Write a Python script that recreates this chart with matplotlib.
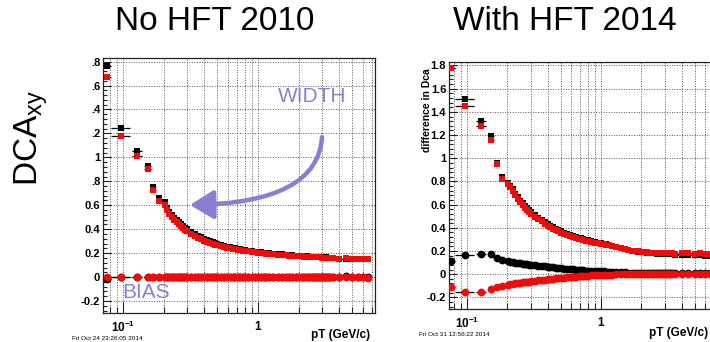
import matplotlib
matplotlib.use('Agg')
import matplotlib.pyplot as plt
from matplotlib.ticker import FixedLocator, NullFormatter, MultipleLocator, FixedFormatter
from matplotlib.patches import FancyArrowPatch
from matplotlib.path import Path

plt.rcParams['font.family'] = ['Liberation Sans', 'DejaVu Sans']
plt.rcParams['mathtext.fontset'] = 'custom'
plt.rcParams['mathtext.rm'] = 'Liberation Sans'
plt.rcParams['mathtext.it'] = 'Liberation Sans'
plt.rcParams['mathtext.bf'] = 'Liberation Sans:bold'

# ---------------- data ----------------
pt = [0.076, 0.097, 0.127, 0.152, 0.168, 0.184, 0.203,
      0.21, 0.22, 0.23, 0.24, 0.25, 0.26, 0.27, 0.28, 0.29, 0.30,
      0.32, 0.34, 0.36, 0.38, 0.40, 0.42, 0.44, 0.46, 0.48, 0.50,
      0.53, 0.56, 0.59, 0.62, 0.65, 0.68, 0.71, 0.74, 0.77, 0.80,
      0.85, 0.90, 0.95, 1.00, 1.05, 1.10, 1.15, 1.20, 1.30, 1.40,
      1.50, 1.60, 1.70, 1.80, 1.90, 2.00, 2.10, 2.20, 2.30, 2.40,
      2.50, 2.60, 2.70, 2.80, 2.90, 3.00, 3.10, 3.20, 3.30, 3.40,
      3.60, 4.00, 4.50, 5.00, 5.50, 6.00, 6.50]

pt_err = [0.005, 0.016, 0.011, 0.008, 0.006, 0.006, 0.005,
          0.005, 0.005, 0.005, 0.005, 0.005, 0.005, 0.005, 0.005, 0.005, 0.005,
          0.01, 0.01, 0.01, 0.01, 0.01, 0.01, 0.01, 0.01, 0.01, 0.01,
          0.015, 0.015, 0.015, 0.015, 0.015, 0.015, 0.015, 0.015, 0.015, 0.015,
          0.025, 0.025, 0.025, 0.025, 0.025, 0.025, 0.025, 0.025, 0.05, 0.05,
          0.05, 0.05, 0.05, 0.05, 0.05, 0.05, 0.05, 0.05, 0.05, 0.05,
          0.05, 0.05, 0.05, 0.05, 0.05, 0.05, 0.05, 0.05, 0.05, 0.05,
          0.2, 0.25, 0.25, 0.25, 0.25, 0.25, 0.25]

# No HFT 2010
width2010_red = [1.675, 1.18, 1.008, 0.90, 0.73, 0.636, 0.60,
                 0.56, 0.53, 0.50, 0.48, 0.46, 0.44, 0.425, 0.41, 0.395, 0.383,
                 0.362, 0.345, 0.33, 0.317, 0.305, 0.295, 0.286, 0.278, 0.271, 0.265,
                 0.257, 0.25, 0.244, 0.239, 0.235, 0.231, 0.227, 0.224, 0.221, 0.218,
                 0.214, 0.21, 0.207, 0.204, 0.201, 0.199, 0.197, 0.195, 0.191, 0.188,
                 0.185, 0.182, 0.18, 0.178, 0.176, 0.174, 0.172, 0.171, 0.17, 0.169,
                 0.168, 0.167, 0.166, 0.165, 0.164, 0.163, 0.163, 0.162, 0.162, 0.161,
                 0.158, 0.153, 0.156, 0.152, 0.155, 0.153, 0.151]
width2010_blk = [1.76, 1.244, 1.05, 0.93, 0.75, 0.66, 0.625,
                 0.575, 0.545, 0.515, 0.495, 0.475, 0.456, 0.44, 0.425, 0.41, 0.398,
                 0.377, 0.36, 0.345, 0.331, 0.319, 0.308, 0.299, 0.29, 0.283, 0.276,
                 0.268, 0.26, 0.254, 0.249, 0.244, 0.24, 0.236, 0.232, 0.229, 0.226,
                 0.221, 0.217, 0.213, 0.21, 0.207, 0.204, 0.202, 0.2, 0.196, 0.192,
                 0.189, 0.186, 0.183, 0.181, 0.179, 0.177, 0.175, 0.173, 0.172, 0.171,
                 0.17, 0.169, 0.168, 0.167, 0.166, 0.165, 0.164, 0.164, 0.163, 0.163,
                 0.16, 0.155, 0.155, 0.153, 0.154, 0.152, 0.152]
bias2010_red = [0.003, 0.002, 0.002, 0.002, 0.002, 0.002, 0.002,
                0.002, 0.002, 0.002, 0.002, 0.002, 0.002, 0.002, 0.002, 0.002, 0.002,
                0.002, 0.002, 0.002, 0.002, 0.002, 0.002, 0.002, 0.002, 0.002, 0.002,
                0.002, 0.002, 0.002, 0.002, 0.002, 0.002, 0.002, 0.002, 0.002, 0.002,
                0.002, 0.002, 0.002, 0.002, 0.002, 0.002, 0.002, 0.002, 0.002, 0.002,
                0.002, 0.002, 0.002, 0.002, 0.002, 0.002, 0.002, 0.002, 0.002, 0.002,
                0.002, 0.002, 0.002, 0.002, 0.002, 0.002, 0.002, 0.002, 0.002, 0.001,
                0.0, -0.003, 0.002, 0.0, -0.003, 0.0, -0.005]
bias2010_blk = [-0.012, 0.0, 0.002, 0.002, 0.001, 0.001, 0.0,
                0.0, 0.0, 0.0, 0.0, 0.0, 0.0, 0.0, 0.0, 0.0, 0.0,
                0.0, 0.0, 0.0, 0.0, 0.0, 0.0, 0.0, 0.0, 0.0, 0.0,
                0.0, 0.0, 0.0, 0.0, 0.0, 0.0, 0.0, 0.0, 0.0, 0.0,
                0.0, 0.0, 0.0, 0.0, 0.0, 0.0, 0.0, 0.0, 0.0, 0.0,
                0.0, 0.0, 0.0, 0.0, 0.0, 0.0, 0.0, 0.0, 0.0, 0.0,
                0.0, 0.0, 0.0, 0.0, 0.0, 0.0, 0.0, 0.0, 0.0, 0.0,
                0.0, 0.002, 0.008, 0.003, 0.0, 0.001, 0.0]

# With HFT 2014
width2014_red = [1.774, 1.453, 1.28, 1.16, 0.95, 0.82, 0.78,
                 0.75, 0.72, 0.68, 0.65, 0.62, 0.595, 0.575, 0.555, 0.537, 0.52,
                 0.495, 0.475, 0.455, 0.437, 0.42, 0.405, 0.392, 0.38, 0.369, 0.359,
                 0.347, 0.337, 0.328, 0.32, 0.313, 0.306, 0.3, 0.295, 0.29, 0.286,
                 0.279, 0.273, 0.268, 0.263, 0.258, 0.253, 0.248, 0.243, 0.233, 0.223,
                 0.215, 0.208, 0.203, 0.199, 0.196, 0.193, 0.19, 0.188, 0.187, 0.186,
                 0.185, 0.184, 0.183, 0.183, 0.182, 0.182, 0.181, 0.181, 0.18, 0.18,
                 0.178, 0.18, 0.183, 0.176, 0.179, 0.172, 0.17]
width2014_blk = [1.78, 1.508, 1.32, 1.19, 0.96, 0.84, 0.79,
                 0.765, 0.735, 0.695, 0.665, 0.635, 0.61, 0.59, 0.57, 0.552, 0.535,
                 0.51, 0.489, 0.469, 0.45, 0.433, 0.418, 0.404, 0.391, 0.38, 0.37,
                 0.357, 0.347, 0.337, 0.329, 0.321, 0.314, 0.308, 0.302, 0.297, 0.293,
                 0.286, 0.279, 0.273, 0.268, 0.262, 0.257, 0.252, 0.247, 0.237, 0.227,
                 0.218, 0.21, 0.204, 0.199, 0.195, 0.191, 0.188, 0.185, 0.183, 0.181,
                 0.179, 0.177, 0.176, 0.175, 0.174, 0.173, 0.172, 0.171, 0.17, 0.17,
                 0.168, 0.166, 0.165, 0.163, 0.162, 0.16, 0.158]
bias2014_blk = [0.114, 0.166, 0.17, 0.17, 0.143, 0.123, 0.112,
                0.108, 0.104, 0.1, 0.097, 0.094, 0.091, 0.088, 0.086, 0.083, 0.081,
                0.077, 0.073, 0.07, 0.067, 0.064, 0.061, 0.058, 0.055, 0.053, 0.051,
                0.048, 0.045, 0.043, 0.041, 0.039, 0.037, 0.035, 0.033, 0.032, 0.031,
                0.029, 0.027, 0.026, 0.025, 0.024, 0.022, 0.021, 0.02, 0.018, 0.016,
                0.015, 0.014, 0.013, 0.013, 0.012, 0.012, 0.011, 0.011, 0.011, 0.01,
                0.01, 0.01, 0.01, 0.01, 0.01, 0.01, 0.01, 0.01, 0.01, 0.01,
                0.01, 0.009, 0.01, 0.008, 0.009, 0.008, 0.008]
bias2014_red = [-0.114, -0.157, -0.157, -0.13, -0.114, -0.10, -0.092,
                -0.088, -0.084, -0.08, -0.077, -0.074, -0.071, -0.068, -0.066, -0.063, -0.06,
                -0.056, -0.052, -0.049, -0.046, -0.043, -0.04, -0.038, -0.036, -0.034, -0.032,
                -0.029, -0.027, -0.025, -0.023, -0.021, -0.019, -0.017, -0.016, -0.014, -0.013,
                -0.011, -0.009, -0.008, -0.007, -0.006, -0.005, -0.004, -0.003, -0.002, -0.001,
                0.0, 0.0, 0.001, 0.001, 0.002, 0.002, 0.002, 0.003, 0.003, 0.003,
                0.004, 0.004, 0.004, 0.004, 0.004, 0.004, 0.004, 0.004, 0.004, 0.004,
                0.005, 0.006, 0.005, 0.006, 0.005, 0.006, 0.005]

yticks = [-0.2, 0, 0.2, 0.4, 0.6, 0.8, 1.0, 1.2, 1.4, 1.6, 1.8]
ylabels_left = ['-0.2', '0', '0.2', '0.4', '0.6', '.8', '1', '.2', '.4', '.6', '.8']
ylabels_right = ['-0.2', '0', '0.2', '0.4', '0.6', '0.8', '1', '1.2', '1.4', '1.6', '1.8']
xminor = [0.08, 0.09, 0.2, 0.3, 0.4, 0.5, 0.6, 0.7, 0.8, 0.9, 2, 3, 4, 5, 6, 7]

# ---------------- figure ----------------
W, H = 710, 342
fig = plt.figure(figsize=(7.1, 3.42), dpi=100)
fig.patch.set_facecolor('white')


def box(x0, y0, x1, y1):
    return [x0 / W, 1 - y1 / H, (x1 - x0) / W, (y1 - y0) / H]


RED = '#f00a0a'
BLK = '#000000'
PURPLE = '#8a7ed2'


def panel(ax, xlim, ylabels, wr, wb, br, bb):
    ax.set_xscale('log')
    ax.set_xlim(*xlim)
    ax.set_ylim(-0.3, 1.83)
    ax.xaxis.set_major_locator(FixedLocator([0.1, 1]))
    ax.xaxis.set_major_formatter(FixedFormatter([r'$\mathbf{10^{-1}}$', r'$\mathbf{1}$']))
    ax.xaxis.set_minor_locator(FixedLocator(xminor))
    ax.xaxis.set_minor_formatter(NullFormatter())
    ax.yaxis.set_major_locator(FixedLocator(yticks))
    ax.yaxis.set_major_formatter(FixedFormatter(ylabels))
    ax.yaxis.set_minor_locator(MultipleLocator(0.04))
    ax.tick_params(which='both', direction='in', top=False, right=False, width=0.8, color='#222')
    ax.tick_params(axis='y', which='major', length=6, labelsize=8, pad=2)
    ax.tick_params(axis='y', which='minor', length=3)
    ax.tick_params(axis='x', which='major', length=8, labelsize=8.5, pad=5)
    ax.tick_params(axis='x', which='minor', length=4)
    for lab in ax.get_yticklabels():
        lab.set_fontweight('bold')
    ax.grid(True, which='major', axis='y', color='#555', linestyle=(0, (1, 1.6)), linewidth=0.7)
    ax.grid(True, which='both', axis='x', color='#555', linestyle=(0, (1, 1.6)), linewidth=0.7)
    ax.set_axisbelow(True)
    for s in ax.spines.values():
        s.set_linewidth(0.9)
        s.set_color('#222')
    ekw = dict(ecolor='k', elinewidth=0.9, capsize=0, linestyle='none')
    ax.errorbar(pt, wb, xerr=pt_err, fmt='s', color=BLK, ms=4.8, mew=0, zorder=3, **ekw)
    ax.errorbar(pt, bb, xerr=pt_err, fmt='o', color=BLK, ms=5.6, mew=0, zorder=3, **ekw)
    ax.errorbar(pt, wr, xerr=pt_err, fmt='s', color=RED, ms=4.8, mew=0, zorder=4, **ekw)
    ax.errorbar(pt, br, xerr=pt_err, fmt='o', color=RED, ms=5.6, mew=0, zorder=4, **ekw)


axL = fig.add_axes(box(103, 58, 375, 313))
panel(axL, (0.071, 7.36), ylabels_left, width2010_red, width2010_blk, bias2010_red, bias2010_blk)

axR = fig.add_axes(box(449, 62, 716.6, 309))
panel(axR, (0.0734, 7.3), ylabels_right, width2014_red, width2014_blk, bias2014_red, bias2014_blk)

# titles
fig.text(215 / W, 1 - 22 / H, 'No HFT 2010', ha='center', va='center', fontsize=24)
fig.text(565 / W, 1 - 22 / H, 'With HFT 2014', ha='center', va='center', fontsize=24)
fig.text(31 / W, 1 - 138 / H, r'DCA$_\mathregular{xy}$', rotation=90, ha='center', va='center', fontsize=24)

# axis titles and time stamps
fig.text(370 / W, 1 - 335 / H, 'pT (GeV/c)', ha='right', va='center', fontsize=8.5, fontweight='bold')
fig.text(708 / W, 1 - 333 / H, 'pT (GeV/c)', ha='right', va='center', fontsize=8.5, fontweight='bold')
fig.text(72 / W, 1 - 338 / H, 'Fri Oct 24 23:26:05 2014', ha='left', va='center', fontsize=4.6)
fig.text(419 / W, 1 - 335 / H, 'Fri Oct 31 12:56:22 2014', ha='left', va='center', fontsize=4.6)
fig.text(427 / W, 1 - 68 / H, 'difference in Dca', rotation=90, ha='center', va='top',
         fontsize=7.5, fontweight='bold')

# annotations
fig.text(312 / W, 1 - 96 / H, 'WIDTH', ha='center', va='center', fontsize=15, color=PURPLE)
fig.text(146 / W, 1 - 293 / H, 'BIAS', ha='center', va='center', fontsize=15, color=PURPLE)

verts = [(322 / W, 1 - 137 / H), (318 / W, 1 - 203 / H), (190 / W, 1 - 205 / H)]
arrow_path = Path(verts, [Path.MOVETO, Path.CURVE3, Path.CURVE3])
arr = FancyArrowPatch(path=arrow_path, arrowstyle='-|>,head_length=0.9,head_width=0.55',
                      mutation_scale=16, color=PURPLE, linewidth=3.2,
                      transform=fig.transFigure)
fig.patches.append(arr)

fig.savefig('out.png', dpi=100)
